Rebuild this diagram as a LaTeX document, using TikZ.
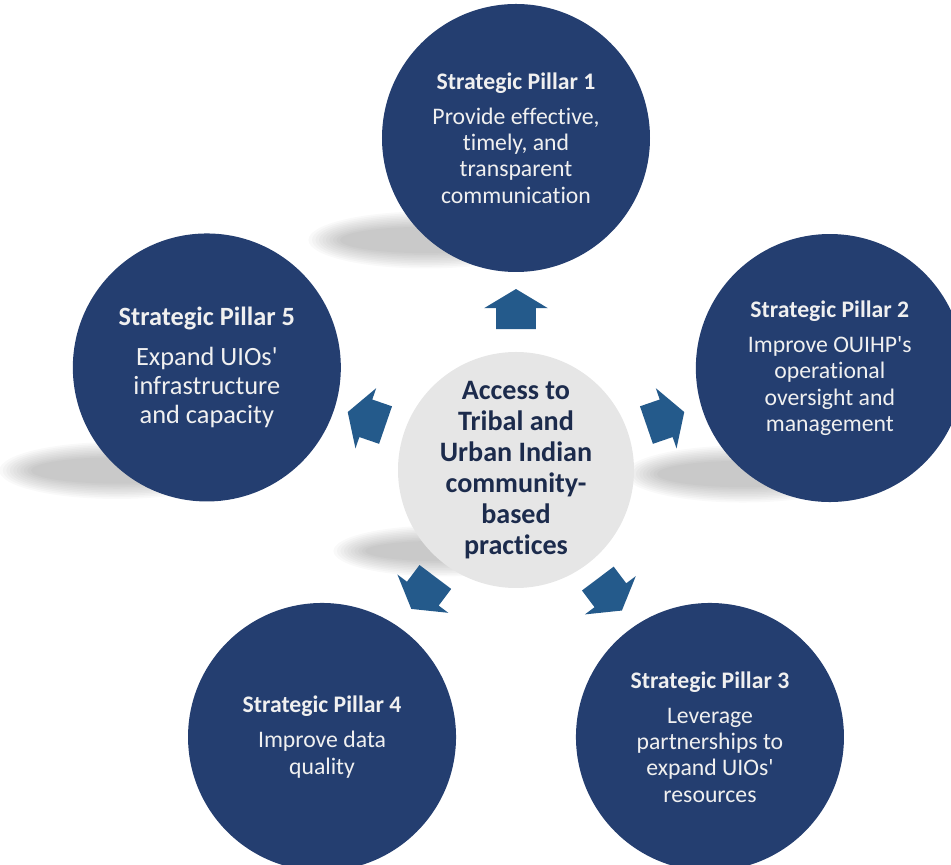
\documentclass[tikz,border=0pt]{standalone}
\usepackage{fontspec}
\setmainfont{Carlito}[Ligatures={TeXOff,CommonOff}]
\usepackage{xcolor}
\usetikzlibrary{shapes.arrows}
\definecolor{pillarblue}{HTML}{243E70}
\definecolor{arrowblue}{HTML}{245A8B}
\definecolor{hubgray}{HTML}{E6E6E6}
\definecolor{hubtext}{HTML}{1C2B4C}
\tikzstyle{pillar} = [circle, 
minimum size=5.36cm, 
inner sep=0pt, 
fill=pillarblue, 
text=white!94!black, 
align=center, 
font=\fontsize{13.5}{15}\selectfont]
\tikzstyle{hub} = [circle, 
minimum size=4.72cm, 
inner sep=0pt, 
fill=hubgray, 
text=hubtext, 
align=center, 
font=\bfseries\fontsize{16}{17.6}\selectfont]
\tikzstyle{pointer} = [single arrow, 
draw=none, 
fill=arrowblue, 
inner xsep=0pt, 
inner ysep=0.39cm, 
minimum height=0.8cm, 
single arrow head extend=0.24cm, 
single arrow tip angle=118]
\tikzstyle{shade} = [black, opacity=0.022]
\newcommand{\castshadow}[5]{%
  \foreach \k in {0,...,9}
    \fill[shade] ([shift={(#2,#3)}]#1) ellipse ({#4+0.35-0.07*\k} and {#5+0.17-0.034*\k});}

\begin{document}
\begin{tikzpicture}
  \useasboundingbox (-10.32,-7.9) rectangle (8.70,9.4);
  \clip (-10.32,-7.9) rectangle (8.70,9.4);

  \coordinate (c0) at (0,0);
  \coordinate (c1) at (90:6.64);
  \coordinate (c2) at (18:6.6);
  \coordinate (c3) at (-54:6.6);
  \coordinate (c4) at (-126:6.6);
  \coordinate (c5) at (160:6.58);

  % shadows
  \castshadow{c1}{-1.8}{-2.04}{2.0}{0.4}
  \castshadow{c2}{-1.74}{-2.12}{2.0}{0.4}
  \castshadow{c5}{-1.8}{-2.26}{2.0}{0.4}
  \castshadow{c0}{-1.5}{-1.62}{1.8}{0.34}

  \node (hub) [hub] at (c0) {Access to\\ Tribal and\\ Urban Indian\\ community-\\ based\\ practices};

  \node (p1) [pillar] at (c1) {\textbf{Strategic Pillar 1}\\[5pt] Provide effective,\\ timely, and\\ transparent\\ communication};
  \node (p2) [pillar] at (c2) {\textbf{Strategic Pillar 2}\\[5pt] Improve OUIHP's\\ operational\\ oversight and\\ management};
  \node (p3) [pillar] at (c3) {\textbf{Strategic Pillar 3}\\[5pt] Leverage\\ partnerships to\\ expand UIOs'\\ resources};
  \node (p4) [pillar] at (c4) {\textbf{Strategic Pillar 4}\\[5pt] Improve data\\ quality};
  \node (p5) [pillar, font=\fontsize{15}{16.5}\selectfont, yshift=-0.2cm] at (c5) {\textbf{Strategic Pillar 5}\\[6pt] Expand UIOs'\\ infrastructure\\ and capacity};

  \node (a1) [pointer, rotate=90] at (90:3.1) {};
  \node (a2) [pointer, rotate=19] at (19:3.04) {};
  \node (a3) [pointer, rotate=-53] at (-53:3.0) {};
  \node (a4) [pointer, rotate=-127] at (-127:2.96) {};
  \node (a5) [pointer, rotate=161] at (161:3.04) {};

\end{tikzpicture}
\end{document}
